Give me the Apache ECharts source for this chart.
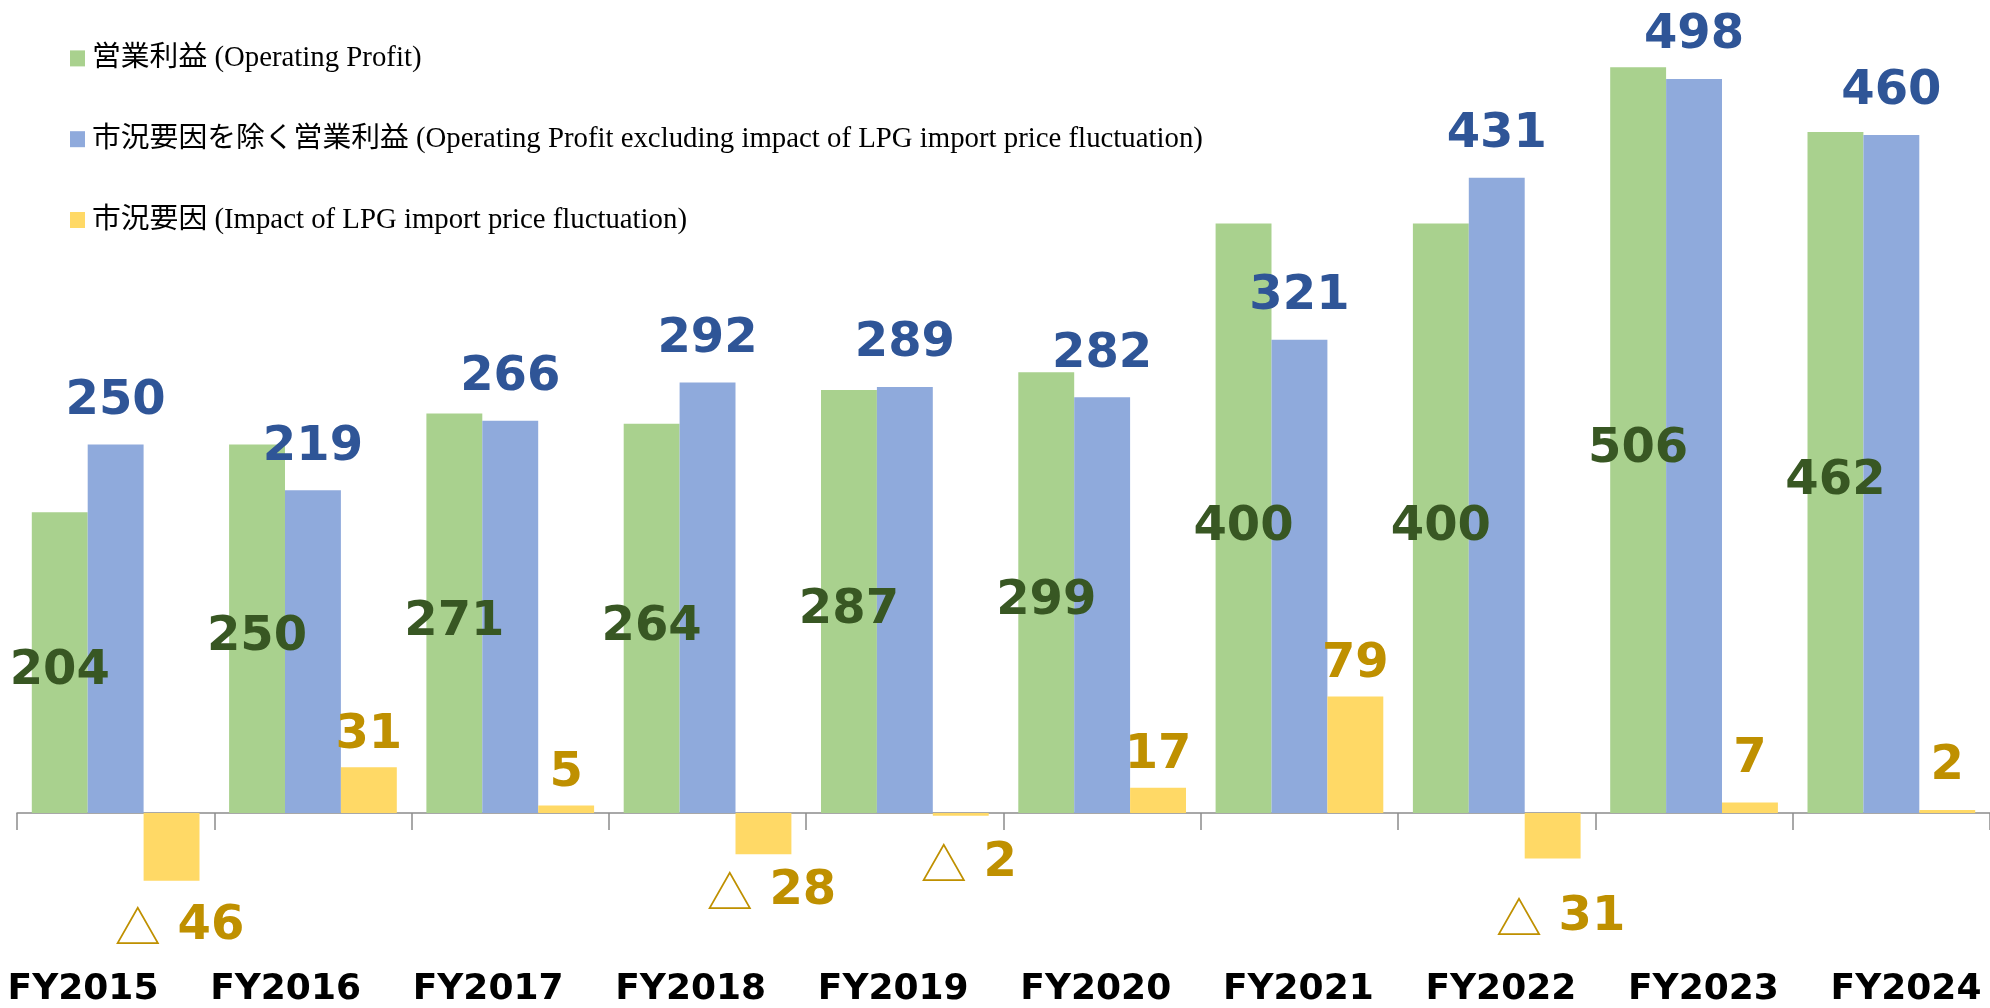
<!DOCTYPE html>
<html>
<head>
<meta charset="utf-8">
<script src="https://cdn.jsdelivr.net/npm/echarts@6/dist/echarts.min.js"></script>
<style>
html,body{margin:0;padding:0;background:#fff;}
#chart{width:1990px;height:1008px;}
</style>
</head>
<body>
<div id="chart"></div>
<script>
const categories = ['FY2015','FY2016','FY2017','FY2018','FY2019','FY2020','FY2021','FY2022','FY2023','FY2024'];
const operatingProfit = [204, 250, 271, 264, 287, 299, 400, 400, 506, 462];
const excludingImpact = [250, 219, 266, 292, 289, 282, 321, 431, 498, 460];
const priceImpact = [-46, 31, 5, -28, -2, 17, 79, -31, 7, 2];
const seriesNames = [
  '営業利益 (Operating Profit)',
  '市況要因を除く営業利益 (Operating Profit excluding impact of LPG import price fluctuation)',
  '市況要因 (Impact of LPG import price fluctuation)'
];

// label styling (not data): label gap per category for the impact series
const impactLabelGap = [22, 8, 8, 13, 24, 8, 8, 35, 19, 19];

const GREEN = '#A9D18E', BLUE = '#8FAADC', YELLOW = '#FFD966';
const GREEN_T = '#385723', BLUE_T = '#2F5597', GOLD_T = '#BF9000';
const valueFont = {fontFamily: 'DejaVu Sans', fontWeight: 'bold', fontSize: 48};

const chart = echarts.init(document.getElementById('chart'));

const impactData = priceImpact.map((v, i) => {
  if (v < 0) {
    return {value: v, label: {position: 'bottom', distance: impactLabelGap[i], offset: [8, 0]}};
  }
  return {value: v, label: {position: 'top', distance: impactLabelGap[i]}};
});

chart.setOption({
  backgroundColor: '#ffffff',
  animation: false,
  legend: {
    orient: 'vertical',
    left: 65,
    top: 39,
    itemWidth: 15,
    itemHeight: 16,
    itemGap: 52,
    icon: 'rect',
    textStyle: {
      fontFamily: "'Liberation Serif', 'Noto Sans CJK JP'",
      fontSize: 28.8,
      color: '#000',
      padding: [0, 0, 0, 2]
    },
    data: seriesNames
  },
  grid: [
    {left: 17, width: 1982, top: 2.3, height: 958},
    {left: 83, width: 1823, top: 900, height: 50}
  ],
  xAxis: [
    {
      type: 'category',
      gridIndex: 0,
      data: categories,
      axisLine: {show: true, lineStyle: {color: '#8c8c8c', width: 1.5}},
      axisTick: {show: true, interval: 0, alignWithLabel: false, length: 17, lineStyle: {color: '#8c8c8c', width: 1.5}},
      axisLabel: {show: false, interval: 0}
    },
    {
      type: 'category',
      gridIndex: 1,
      data: categories,
      boundaryGap: false,
      axisLine: {show: false},
      axisTick: {show: false},
      axisLabel: {
        margin: 32,
        color: '#000',
        fontFamily: 'DejaVu Sans',
        fontWeight: 'bold',
        fontSize: 36,
        interval: 0
      }
    }
  ],
  yAxis: [
    {type: 'value', gridIndex: 0, min: -100, max: 550, show: false, splitLine: {show: false}},
    {type: 'value', gridIndex: 1, show: false}
  ],
  series: [
    {
      name: seriesNames[0],
      type: 'bar',
      data: operatingProfit,
      barGap: '0%',
      barCategoryGap: '15%',
      itemStyle: {color: GREEN},
      label: Object.assign({show: true, position: 'inside', offset: [0, 9], color: GREEN_T}, valueFont)
    },
    {
      name: seriesNames[1],
      type: 'bar',
      data: excludingImpact,
      barGap: '0%',
      barCategoryGap: '15%',
      itemStyle: {color: BLUE},
      label: Object.assign({show: true, position: 'top', distance: 19, color: BLUE_T}, valueFont)
    },
    {
      name: seriesNames[2],
      type: 'bar',
      data: impactData,
      barGap: '0%',
      barCategoryGap: '15%',
      itemStyle: {color: YELLOW},
      label: Object.assign({
        show: true,
        color: GOLD_T,
        formatter: function (p) {
          const v = p.value;
          return v < 0 ? '{t|△} {n|' + Math.abs(v) + '}' : String(v);
        },
        rich: {
          t: {fontFamily: 'Noto Sans CJK JP', fontWeight: 'normal', fontSize: 46, color: GOLD_T},
          n: {fontFamily: 'DejaVu Sans', fontWeight: 'bold', fontSize: 48, color: GOLD_T}
        }
      }, valueFont)
    }
  ]
});
</script>
</body>
</html>
